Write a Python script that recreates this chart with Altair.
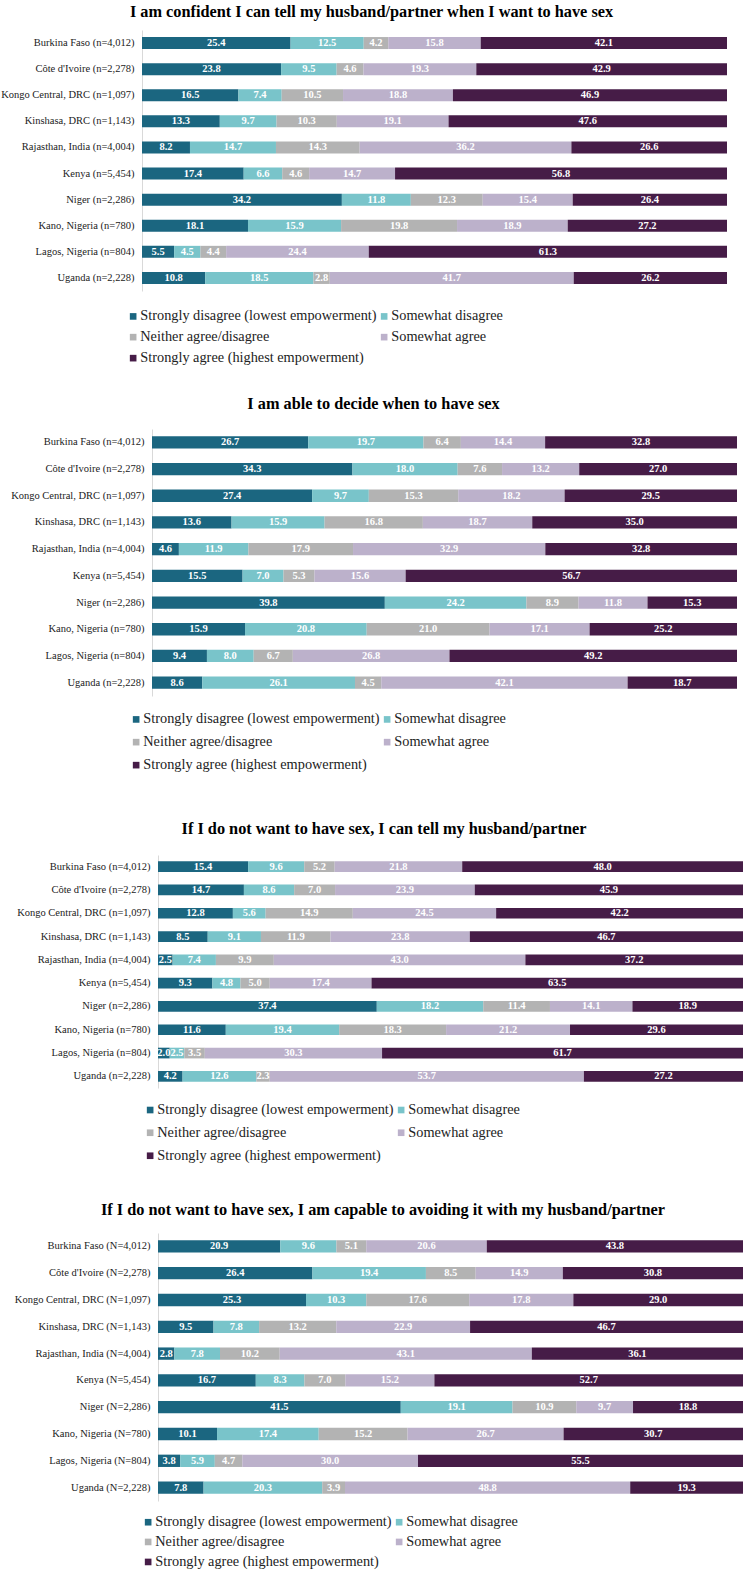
import altair as alt
import pandas as pd

categories = [
    "Strongly disagree (lowest empowerment)",
    "Somewhat disagree",
    "Neither agree/disagree",
    "Somewhat agree",
    "Strongly agree (highest empowerment)",
]
colors = ["#1b6680", "#79c4ca", "#b3b3b3", "#bcb1cb", "#461c47"]

places = ["Burkina Faso", "Côte d'Ivoire", "Kongo Central, DRC", "Kinshasa, DRC",
          "Rajasthan, India", "Kenya", "Niger", "Kano, Nigeria", "Lagos, Nigeria", "Uganda"]
sample_sizes = ["4,012", "2,278", "1,097", "1,143", "4,004", "5,454", "2,286", "780", "804", "2,228"]

titles = [
    "I am confident I can tell my husband/partner when I want to have sex",
    "I am able to decide when to have sex",
    "If I do not want to have sex, I can tell my husband/partner",
    "If I do not want to have sex, I am capable to avoiding it with my husband/partner",
]
n_letters = ["n", "n", "n", "N"]

# values per place: strongly disagree, somewhat disagree, neither, somewhat agree, strongly agree
p1_values = [
    [25.4, 12.5, 4.2, 15.8, 42.1],
    [23.8, 9.5, 4.6, 19.3, 42.9],
    [16.5, 7.4, 10.5, 18.8, 46.9],
    [13.3, 9.7, 10.3, 19.1, 47.6],
    [8.2, 14.7, 14.3, 36.2, 26.6],
    [17.4, 6.6, 4.6, 14.7, 56.8],
    [34.2, 11.8, 12.3, 15.4, 26.4],
    [18.1, 15.9, 19.8, 18.9, 27.2],
    [5.5, 4.5, 4.4, 24.4, 61.3],
    [10.8, 18.5, 2.8, 41.7, 26.2],
]
p2_values = [
    [26.7, 19.7, 6.4, 14.4, 32.8],
    [34.3, 18.0, 7.6, 13.2, 27.0],
    [27.4, 9.7, 15.3, 18.2, 29.5],
    [13.6, 15.9, 16.8, 18.7, 35.0],
    [4.6, 11.9, 17.9, 32.9, 32.8],
    [15.5, 7.0, 5.3, 15.6, 56.7],
    [39.8, 24.2, 8.9, 11.8, 15.3],
    [15.9, 20.8, 21.0, 17.1, 25.2],
    [9.4, 8.0, 6.7, 26.8, 49.2],
    [8.6, 26.1, 4.5, 42.1, 18.7],
]
p3_values = [
    [15.4, 9.6, 5.2, 21.8, 48.0],
    [14.7, 8.6, 7.0, 23.9, 45.9],
    [12.8, 5.6, 14.9, 24.5, 42.2],
    [8.5, 9.1, 11.9, 23.8, 46.7],
    [2.5, 7.4, 9.9, 43.0, 37.2],
    [9.3, 4.8, 5.0, 17.4, 63.5],
    [37.4, 18.2, 11.4, 14.1, 18.9],
    [11.6, 19.4, 18.3, 21.2, 29.6],
    [2.0, 2.5, 3.5, 30.3, 61.7],
    [4.2, 12.6, 2.3, 53.7, 27.2],
]
p4_values = [
    [20.9, 9.6, 5.1, 20.6, 43.8],
    [26.4, 19.4, 8.5, 14.9, 30.8],
    [25.3, 10.3, 17.6, 17.8, 29.0],
    [9.5, 7.8, 13.2, 22.9, 46.7],
    [2.8, 7.8, 10.2, 43.1, 36.1],
    [16.7, 8.3, 7.0, 15.2, 52.7],
    [41.5, 19.1, 10.9, 9.7, 18.8],
    [10.1, 17.4, 15.2, 26.7, 30.7],
    [3.8, 5.9, 4.7, 30.0, 55.5],
    [7.8, 20.3, 3.9, 48.8, 19.3],
]

FONT = "Liberation Serif"
W = 585


def make_panel(values, title, letter, height, x_shift, title_dx, title_offset,
               leg_x, leg_y, leg_pad, row_pad):
    labels = [f"{p} ({letter}={s})" for p, s in zip(places, sample_sizes)]
    rows = []
    for lab, vals in zip(labels, values):
        for k, (cat, v) in enumerate(zip(categories, vals)):
            rows.append({"place": lab, "category": cat, "order": k, "value": v})
    df = pd.DataFrame(rows)

    base = alt.Chart(df).transform_window(
        cum="sum(value)", groupby=["place"], sort=[alt.SortField("order")], frame=[None, 0]
    ).transform_joinaggregate(
        total="sum(value)", groupby=["place"]
    ).transform_calculate(
        x1="(datum.cum - datum.value) / datum.total * 100",
        x2="datum.cum / datum.total * 100",
    ).transform_calculate(
        xm="(datum.x1 + datum.x2) / 2"
    ).encode(
        y=alt.Y("place:N", sort=labels, title=None,
                scale=alt.Scale(paddingInner=0.54, paddingOuter=0.27),
                axis=alt.Axis(ticks=False, tickSize=0, labelPadding=8, offset=x_shift,
                              minExtent=141, maxExtent=200,
                              domainColor="#d9d9d9", domainWidth=1,
                              labelFont=FONT, labelFontSize=10.5, labelColor="#222222",
                              labelLimit=300))
    )
    xscale = alt.Scale(domain=[0, 100], range=[-x_shift, W - x_shift], nice=False, zero=False)
    bars = base.mark_bar().encode(
        x=alt.X("x1:Q", scale=xscale, axis=None),
        x2="x2:Q",
        color=alt.Color("category:N", sort=categories,
                        scale=alt.Scale(domain=categories, range=colors),
                        legend=alt.Legend(title=None, orient="none", legendX=leg_x, legendY=leg_y,
                                          padding=leg_pad, columns=2, direction="horizontal",
                                          rowPadding=row_pad, columnPadding=0,
                                          symbolType="square", symbolSize=44,
                                          symbolStrokeWidth=0, labelFont=FONT, labelFontSize=14.3,
                                          labelColor="#222222", labelLimit=400, labelOffset=0)),
    )
    text = base.mark_text(font=FONT, fontSize=10.5, fontWeight="bold", color="white",
                          align="center", baseline="middle").encode(
        x=alt.X("xm:Q", scale=xscale, axis=None),
        text=alt.Text("value:Q", format=".1f"),
    )
    return alt.layer(bars, text).properties(
        width=W, height=height,
        title=alt.TitleParams(title, font=FONT, fontSize=16.3, fontWeight="bold", color="black",
                              anchor="middle", frame="group", dx=title_dx,
                              offset=title_offset, baseline="middle"),
    )


p1 = make_panel(p1_values, titles[0], n_letters[0], 261, 16, -79, 2, -41, 270, 9, 6)
p2 = make_panel(p2_values, titles[1], n_letters[1], 267, 6, -77, 9.2, -56, 256, 27, 8)
p3 = make_panel(p3_values, titles[2], n_letters[2], 233, 0, -66.5, 9.9, -33, 229.6, 18, 8)
p4 = make_panel(p4_values, titles[3], n_letters[3], 268, 0, -67.5, 6.4, -17, 281.8, 0, 5)

chart = alt.vconcat(p1, p2, p3, p4, spacing=20).resolve_scale(
    color="independent", x="independent", y="independent"
).resolve_legend(color="independent").properties(
    padding={"left": 0, "top": 3, "right": 0, "bottom": 0}
).configure_view(strokeWidth=0)

chart.save("out.html", embed_options={"renderer": "svg", "actions": False})
